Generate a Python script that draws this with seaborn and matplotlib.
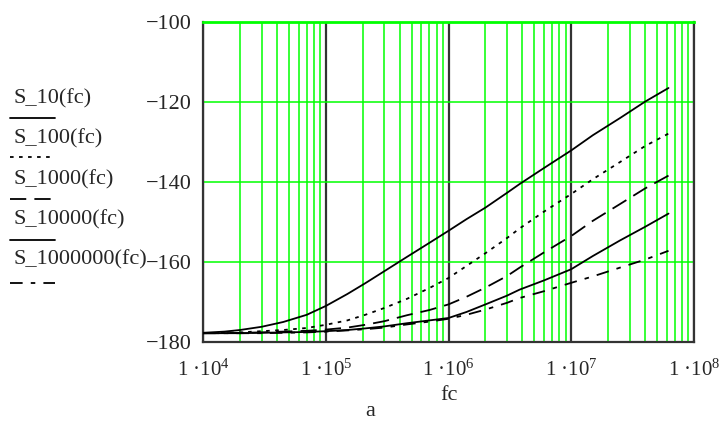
import numpy as np
import pandas as pd
import seaborn as sns
import matplotlib
matplotlib.use('Agg')
import matplotlib.pyplot as plt
from matplotlib.lines import Line2D

# values (dB), frequency in Hz
fc = [1e4, 1.5e4, 2e4, 3e4, 4.5e4, 7e4, 1e5, 1.5e5, 2.1e5, 3e5, 4.6e5, 7e5,
      1e6, 1.4e6, 2e6, 3e6, 3.8e6, 6e6, 1e7, 1.5e7, 2.5e7, 4e7, 6.2e7]
S_10 = [-177.7, -177.4, -177.0, -176.2, -175.0, -173.2, -171.0, -168.0, -165.3, -162.3, -158.7, -155.2,
        -152.2, -149.3, -146.4, -142.7, -140.5, -136.5, -132.1, -128.3, -124.0, -119.9, -116.5]
S_100 = [-177.8, -177.7, -177.6, -177.3, -177.0, -176.5, -175.7, -174.6, -173.2, -171.5, -169.2, -166.5,
         -164.0, -161.0, -157.8, -154.0, -151.6, -147.4, -143.0, -139.3, -135.0, -131.0, -127.9]
S_1000 = [-177.8, -177.8, -177.7, -177.6, -177.4, -177.2, -176.9, -176.4, -175.7, -174.8, -173.3, -172.0,
          -170.6, -168.7, -166.4, -163.5, -161.4, -157.6, -153.5, -149.7, -145.5, -141.6, -138.4]
S_10000 = [-177.8, -177.8, -177.8, -177.7, -177.6, -177.5, -177.3, -177.0, -176.6, -176.1, -175.3, -174.6,
           -174.0, -172.5, -170.6, -168.4, -166.9, -164.6, -161.8, -158.5, -154.6, -151.2, -147.9]
S_1000000 = [-177.8, -177.8, -177.8, -177.8, -177.7, -177.6, -177.4, -177.1, -176.8, -176.4, -175.6, -174.9,
             -174.2, -173.2, -171.9, -170.2, -169.0, -167.3, -165.2, -163.6, -161.4, -159.4, -157.2]

names = ['S_10', 'S_100', 'S_1000', 'S_10000', 'S_1000000']
series = [S_10, S_100, S_1000, S_10000, S_1000000]
dash_map = {'S_10': '', 'S_100': (2, 3), 'S_1000': (9, 4.5), 'S_10000': '', 'S_1000000': (7, 4.5, 2.5, 4.5)}

xticks = [1e4, 1e5, 1e6, 1e7, 1e8]
xticklabels = ['1 ·10$^{4}$', '1 ·10$^{5}$', '1 ·10$^{6}$', '1 ·10$^{7}$', '1 ·10$^{8}$']
yticks = [-180, -160, -140, -120, -100]
yticklabels = ['\u2212180', '\u2212160', '\u2212140', '\u2212120', '\u2212100']

rows = []
for n, s in zip(names, series):
    for f, v in zip(fc, s):
        rows.append({'fc': f, 'S': v, 'series': n})
df = pd.DataFrame(rows)

sns.set_style('white')
plt.rcParams['font.family'] = ['Liberation Serif', 'DejaVu Serif']
plt.rcParams['mathtext.default'] = 'regular'

green = '#00ff00'
dark = '#333333'

fig = plt.figure(figsize=(7.19, 4.23), dpi=100)
ax = fig.add_axes([203 / 719, 81 / 423, 491 / 719, 320 / 423])

sns.lineplot(data=df, x='fc', y='S', style='series', dashes=dash_map, color='black',
             linewidth=1.3, legend=False, estimator=None, sort=False, ax=ax, zorder=5)

ax.set_xscale('log')
ax.set_xlim(1e4, 1e8)
ax.set_ylim(-180, -100)

# grid: green minor verticals, dark decade lines, green horizontals
ax.set_xticks(xticks)
ax.set_xticklabels(xticklabels, fontsize=15)
ax.set_yticks(yticks)
ax.set_yticklabels(yticklabels, fontsize=16)
ax.xaxis.set_minor_locator(matplotlib.ticker.LogLocator(base=10, subs=np.arange(2, 10)))
ax.xaxis.set_minor_formatter(matplotlib.ticker.NullFormatter())
ax.tick_params(axis='both', which='both', length=0)
ax.tick_params(axis='x', pad=13)
ax.tick_params(axis='y', pad=8)
ax.grid(which='minor', axis='x', color=green, lw=1.1)
ax.grid(which='major', axis='x', color=dark, lw=1.6)
ax.grid(which='major', axis='y', color=green, lw=1.1)
ax.set_axisbelow(True)

for side in ['left', 'bottom', 'right']:
    ax.spines[side].set_color(dark)
    ax.spines[side].set_linewidth(1.6)
ax.spines['top'].set_color(green)
ax.spines['top'].set_linewidth(2)

ax.set_xlabel('')
ax.set_ylabel('')
fig.text(449 / 719, 1 - 395 / 423, 'fc', fontsize=16, ha='center', va='center')
fig.text(370 / 719, 1 - 411 / 423, 'a', fontsize=16, ha='center', va='center')

# MathCad-style legend: label with its line sample below
text_y = [99, 139, 180, 220, 260]
line_y = [118, 157, 199, 240, 283]
for n, ty, ly in zip(names, text_y, line_y):
    fig.text(13 / 719, 1 - ty / 423, n + '(fc)', fontsize=16, ha='left', va='center')
    ln = Line2D([10 / 719, 55 / 719], [1 - ly / 423, 1 - ly / 423], transform=fig.transFigure,
                color='black', lw=1.3)
    if dash_map[n]:
        ln.set_dashes(dash_map[n])
    fig.add_artist(ln)

fig.savefig('out.png', dpi=100)
